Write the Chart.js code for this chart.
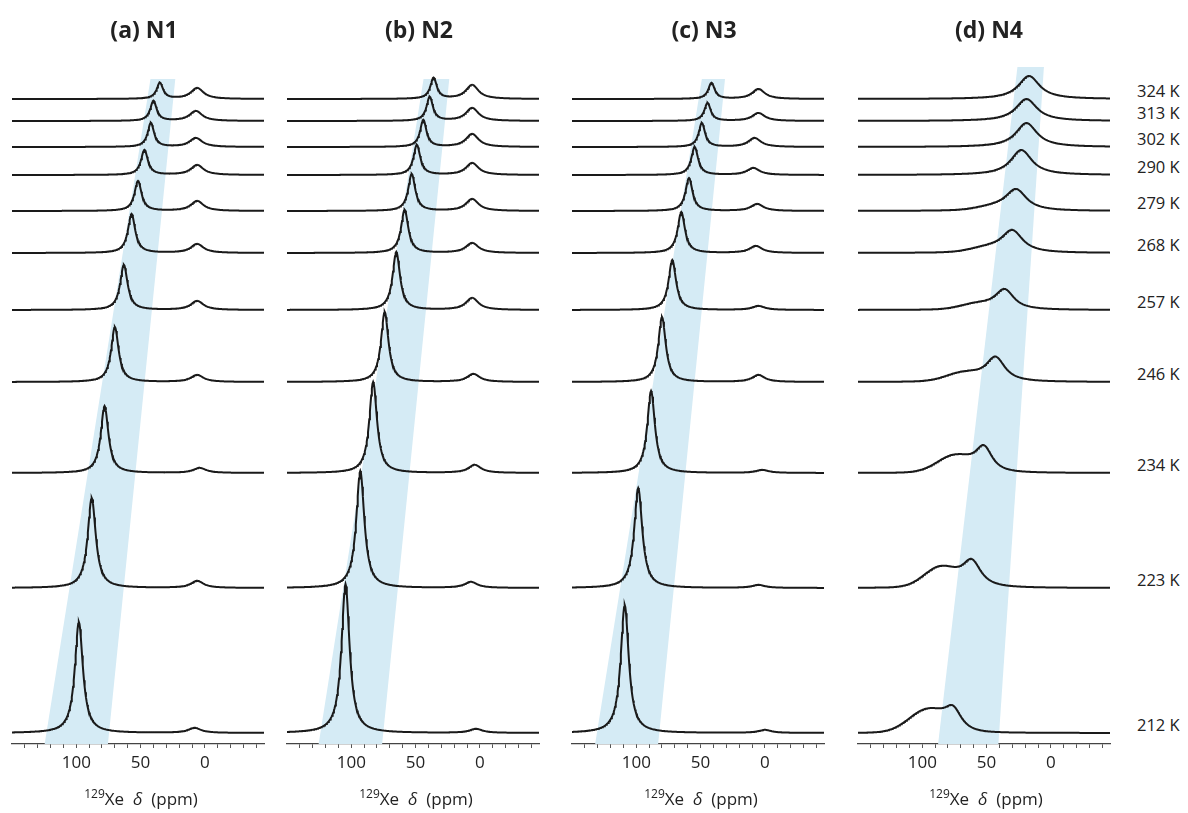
<!DOCTYPE html>
<html>
<head>
<meta charset="utf-8">
<script src="https://cdn.jsdelivr.net/npm/chart.js@4.4.0/dist/chart.umd.min.js"></script>
<style>
  body { margin: 0; width: 1188px; height: 813px; background: #fff; position: relative; overflow: hidden;
         font-family: 'Open Sans', sans-serif; color: #222; }
  canvas { position: absolute; top: 0; }
  .title { position: absolute; top: 13px; font-weight: bold; font-size: 23px; transform: translateX(-50%); white-space: nowrap; }
  .xlab { position: absolute; top: 785px; font-size: 17px; transform: translateX(-50%); white-space: nowrap; }
  .xlab sup { font-size: 12px; }
  .temp { position: absolute; left: 1137px; font-size: 16.5px; transform: translateY(-50%); white-space: nowrap; }
</style>
</head>
<body>
<script>
// temperatures, top to bottom, and vertical stacking offset of each trace
const temps = ['324 K', '313 K', '302 K', '290 K', '279 K', '268 K', '257 K', '246 K', '234 K', '223 K', '212 K'];
const offsets = [645, 623, 597, 569, 533, 491, 434, 362, 271, 156, 11];

// axis ticks (ppm)
const tickVals = [-40, -30, -20, -10, 0, 10, 20, 30, 40, 50, 60, 70, 80, 90, 100, 110, 120, 130, 140];
const tickLabels = [0, 50, 100];

// (a) N1 - adsorbed Xe peak and free gas peak
const n1Shift = [35, 40, 42, 47, 52, 57, 63, 70, 78, 88, 98];
const n1Height = [16, 20, 24, 25, 30, 39, 45, 55, 67, 90, 111];
const n1Width = [3, 3, 3, 3.2, 3.3, 3.4, 3.5, 3.5, 3.6, 3.8, 3.8];
const n1GasShift = [6, 7, 7, 6, 6, 6, 6, 6, 4, 6, 8];
const n1GasHeight = [11, 10, 9, 10, 10, 9, 9, 7, 5, 7, 5];

// (b) N2
const n2Shift = [36, 39, 44, 49, 53, 58.5, 65, 74, 83, 93, 104.5];
const n2Height = [21, 24, 27, 30, 37, 43, 58, 70, 91, 117, 149];
const n2Width = [3, 3, 3, 3.2, 3.3, 3.4, 3.5, 3.5, 3.6, 3.8, 3.8];
const n2GasShift = [6, 6, 6, 6, 6, 6, 6, 5, 4, 7, 3];
const n2GasHeight = [14, 13, 13, 12, 12, 10, 12, 8, 8, 6, 4];

// (c) N3
const n3Shift = [41.5, 44.6, 49, 54.6, 59, 65, 72, 80, 88.5, 98.5, 109];
const n3Height = [16, 18, 24, 28, 33, 41, 50, 65, 82, 100, 128];
const n3Width = [3, 3, 3, 3.2, 3.3, 3.4, 3.5, 3.5, 3.6, 3.8, 3.8];
const n3GasShift = [5, 5, 8, 9, 6, 7, 5, 5, 2, 5, 0];
const n3GasHeight = [10, 8, 9, 7, 7, 7, 4, 7, 3, 3, 3];

// (d) N4 - broad peak plus low-field shoulder
const n4Shift = [17, 19, 19, 23, 27, 30, 36, 43, 52, 61.5, 76];
const n4Height = [23, 22, 24, 25, 21, 22, 20, 24, 24, 26, 19];
const n4Width = [10, 10, 10, 10, 10, 10, 9, 9, 8, 9, 8];
const n4ShoulderShift = [40, 40, 40, 40, 45, 50, 58, 68, 75, 86, 96];
const n4ShoulderHeight = [0, 0, 0, 0, 3, 4, 5, 8, 16, 19, 22];
const n4ShoulderWidth = [15, 15, 15, 15, 15, 15, 15, 16, 16, 15, 17];

// shaded band corners (ppm): top edge and bottom edge
const bandTops = [[42.3, 23], [43.8, 23.8], [49, 31], [26, 5.4]];
const bandBottoms = [[124.6, 75.4], [125.4, 76], [132, 83], [87.7, 40.8]];
const bandHeights = [665, 665, 665, 677];

const lorentz = (x, c, h, w) => h / (1 + ((x - c) / w) ** 2);
const gauss = (x, c, h, w) => h * Math.exp(-Math.LN2 * ((x - c) / w) ** 2);

const ppmGrid = [];
for (let p = 150; p >= -46; p -= 0.5) ppmGrid.push(p);

const panels = [
  { title: '(a) N1', left: 0, center: 141, main: [n1Shift, n1Height, n1Width], side: [n1GasShift, n1GasHeight, n1Width.map(() => 6)], sideShape: lorentz },
  { title: '(b) N2', left: 275, center: 416, main: [n2Shift, n2Height, n2Width], side: [n2GasShift, n2GasHeight, n2Width.map(() => 6)], sideShape: lorentz },
  { title: '(c) N3', left: 560, center: 701, main: [n3Shift, n3Height, n3Width], side: [n3GasShift, n3GasHeight, n3Width.map(() => 6)], sideShape: lorentz },
  { title: '(d) N4', left: 846, center: 986, main: [n4Shift, n4Height, n4Width], side: [n4ShoulderShift, n4ShoulderHeight, n4ShoulderWidth], sideShape: gauss }
];

const bandPlugin = {
  id: 'band',
  beforeDatasetsDraw(chart, args, opts) {
    const { ctx, scales: { x, y } } = chart;
    const i = opts.index;
    ctx.save();
    ctx.fillStyle = '#d5ebf5';
    ctx.beginPath();
    ctx.moveTo(x.getPixelForValue(bandBottoms[i][0]), y.getPixelForValue(0));
    ctx.lineTo(x.getPixelForValue(bandTops[i][0]), y.getPixelForValue(bandHeights[i]));
    ctx.lineTo(x.getPixelForValue(bandTops[i][1]), y.getPixelForValue(bandHeights[i]));
    ctx.lineTo(x.getPixelForValue(bandBottoms[i][1]), y.getPixelForValue(0));
    ctx.closePath();
    ctx.fill();
    ctx.restore();
  }
};

panels.forEach((p, pi) => {
  const cv = document.createElement('canvas');
  cv.width = 276; cv.height = 813;
  cv.style.left = p.left + 'px';
  document.body.appendChild(cv);

  const t = document.createElement('div');
  t.className = 'title'; t.style.left = p.center + 3 + 'px'; t.textContent = p.title;
  document.body.appendChild(t);

  const xl = document.createElement('div');
  xl.className = 'xlab'; xl.style.left = p.center + 'px';
  xl.innerHTML = '<sup>129</sup>Xe&nbsp; <i>δ</i>&nbsp; (ppm)';
  document.body.appendChild(xl);

  const datasets = temps.map((tk, i) => ({
    label: tk,
    data: ppmGrid.map(v => ({
      x: v,
      y: offsets[i] + lorentz(v, p.main[0][i], p.main[1][i], p.main[2][i]) +
         p.sideShape(v, p.side[0][i], p.side[1][i], p.side[2][i])
    })),
    borderColor: '#1a1a1a',
    borderWidth: 2,
    pointRadius: 0,
    tension: 0,
    fill: false
  }));

  new Chart(cv, {
    type: 'line',
    data: { datasets },
    plugins: [bandPlugin],
    options: {
      responsive: false,
      animation: false,
      events: [],
      layout: { padding: { left: 12, right: 12, top: 60, bottom: 29 } },
      plugins: { legend: { display: false }, tooltip: { enabled: false }, band: { index: pi } },
      scales: {
        x: {
          type: 'linear', reverse: true, min: -46, max: 150,
          afterBuildTicks: s => { s.ticks = tickVals.map(v => ({ value: v })); },
          afterFit: s => { s.height = 40; },
          border: { display: true, color: '#444', width: 1.3 },
          grid: { display: true, drawOnChartArea: false, drawTicks: true, tickLength: 4, color: '#555', lineWidth: 1 },
          ticks: {
            autoSkip: false, maxRotation: 0, padding: 5, color: '#222',
            font: { family: 'Open Sans', size: 17 },
            callback: v => tickLabels.includes(v) ? String(v) : ''
          }
        },
        y: { display: false, min: 0, max: 684 }
      }
    }
  });
});

temps.forEach((tk, i) => {
  const d = document.createElement('div');
  d.className = 'temp';
  d.style.top = (744 - offsets[i] - 9) + 'px';
  d.textContent = tk;
  document.body.appendChild(d);
});
</script>
</body>
</html>
